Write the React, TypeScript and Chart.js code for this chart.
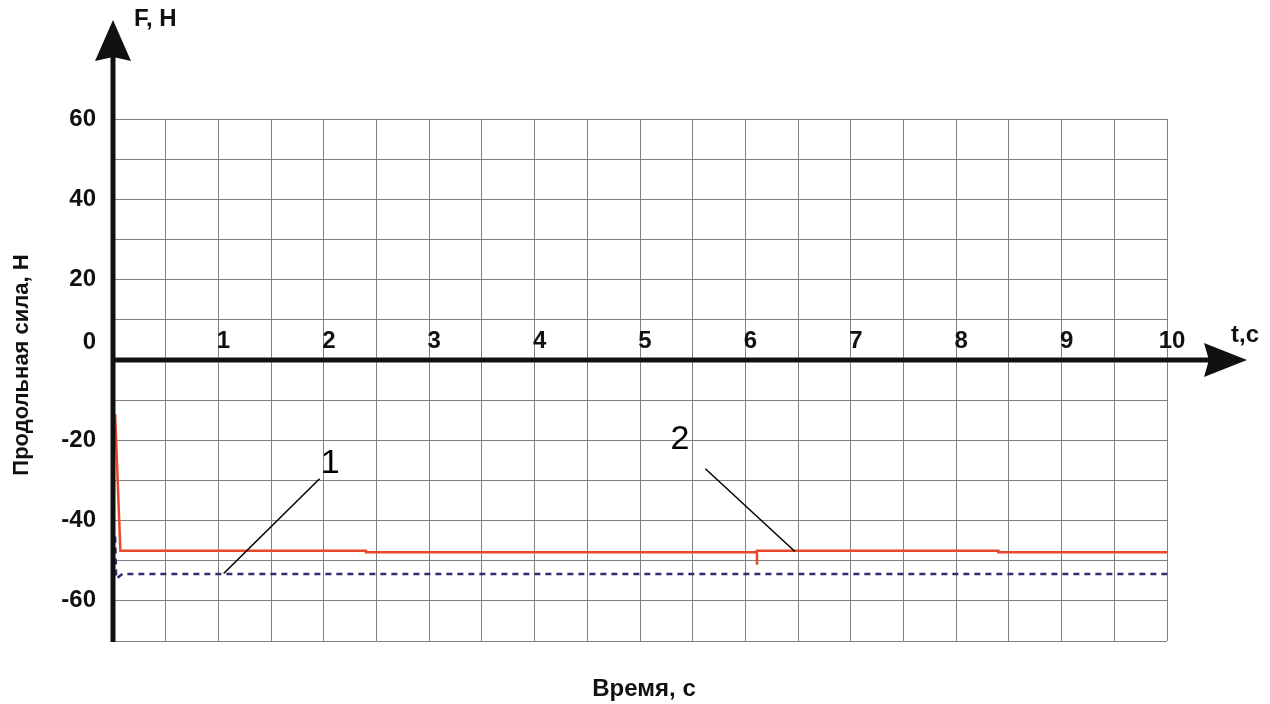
import React, { useEffect, useRef } from "react";
import { Chart, registerables } from "chart.js";

Chart.register(...registerables);

// ---- data ----
const series1Time = [0.02, 0.03, 0.09, 10];
const series1Force = [-44, -54.5, -53.3, -53.3];

const series2Time = [0.02, 0.07, 2.4, 2.4, 6.11, 6.11, 6.11, 8.4, 8.4, 10];
const series2Force = [-13.5, -47.5, -47.5, -47.9, -47.9, -51, -47.5, -47.5, -47.9, -47.9];

const xTickLabels = ["1", "2", "3", "4", "5", "6", "7", "8", "9", "10"];
const xTickValues = [1, 2, 3, 4, 5, 6, 7, 8, 9, 10];
const yTickLabels = ["60", "40", "20", "0", "-20", "-40", "-60"];
const yTickValues = [60, 40, 20, 0, -20, -40, -60];

const callouts = [
  { label: "1", labelT: 2.06, labelF: -25.9, fromT: 1.96, fromF: -29.6, toT: 1.05, toF: -53.2 },
  { label: "2", labelT: 5.38, labelF: -19.9, fromT: 5.62, fromF: -27.1, toT: 6.47, toF: -47.7 },
];

const FONT = "'Liberation Sans', Arial, sans-serif";

const decorPlugin = {
  id: "decor",
  afterDraw(chart: any) {
    const ctx = chart.ctx;
    const xs = chart.scales.x;
    const ys = chart.scales.y;
    const x0 = xs.getPixelForValue(0);
    const y0 = ys.getPixelForValue(0);
    const yBottom = ys.getPixelForValue(-70);
    ctx.save();
    ctx.fillStyle = "#111";
    ctx.strokeStyle = "#111";
    // y axis
    ctx.lineWidth = 5;
    ctx.beginPath();
    ctx.moveTo(x0, yBottom + 1);
    ctx.lineTo(x0, 50);
    ctx.stroke();
    ctx.beginPath();
    ctx.moveTo(x0, 20);
    ctx.lineTo(x0 + 18, 61);
    ctx.lineTo(x0, 57);
    ctx.lineTo(x0 - 18, 61);
    ctx.closePath();
    ctx.fill();
    // x axis
    ctx.beginPath();
    ctx.moveTo(x0, y0);
    ctx.lineTo(1215, y0);
    ctx.stroke();
    ctx.beginPath();
    ctx.moveTo(1247, y0);
    ctx.lineTo(1204, y0 - 17);
    ctx.lineTo(1209, y0);
    ctx.lineTo(1204, y0 + 17);
    ctx.closePath();
    ctx.fill();

    // tick labels
    ctx.font = `bold 24px ${FONT}`;
    ctx.textBaseline = "middle";
    ctx.textAlign = "right";
    yTickValues.forEach((v, i) => {
      let py = ys.getPixelForValue(v);
      if (v === 0) py -= 18;
      ctx.fillText(yTickLabels[i], 96, py);
    });
    ctx.textAlign = "center";
    xTickValues.forEach((v, i) => {
      ctx.fillText(xTickLabels[i], xs.getPixelForValue(v) + 5, y0 - 19);
    });

    // axis names
    ctx.font = `bold 24px ${FONT}`;
    ctx.textAlign = "left";
    ctx.fillText("F, H", 134, 19);
    ctx.fillText("t,c", 1231, 335);
    ctx.textAlign = "center";
    ctx.font = `bold 24px ${FONT}`;
    ctx.fillText("Время, с", 644, 689);
    ctx.save();
    ctx.translate(22, 365);
    ctx.rotate(-Math.PI / 2);
    ctx.font = `bold 22px ${FONT}`;
    ctx.fillText("Продольная сила, Н", 0, 0);
    ctx.restore();

    // callouts
    ctx.lineWidth = 1.5;
    ctx.strokeStyle = "#000";
    ctx.fillStyle = "#000";
    ctx.font = `34px ${FONT}`;
    callouts.forEach((c) => {
      ctx.beginPath();
      ctx.moveTo(xs.getPixelForValue(c.fromT), ys.getPixelForValue(c.fromF));
      ctx.lineTo(xs.getPixelForValue(c.toT), ys.getPixelForValue(c.toF));
      ctx.stroke();
      ctx.fillText(c.label, xs.getPixelForValue(c.labelT), ys.getPixelForValue(c.labelF));
    });
    ctx.restore();
  },
};

export default function App() {
  const ref = useRef<HTMLCanvasElement>(null);
  useEffect(() => {
    if (!ref.current) return;
    const chart = new Chart(ref.current, {
      type: "line",
      data: {
        datasets: [
          {
            label: "1",
            data: series1Time.map((t, i) => ({ x: t, y: series1Force[i] })),
            borderColor: "#3b2a70",
            borderWidth: 2.5,
            borderDash: [6, 5],
            pointRadius: 0,
            tension: 0,
          },
          {
            label: "2",
            data: series2Time.map((t, i) => ({ x: t, y: series2Force[i] })),
            borderColor: "#e8482a",
            borderWidth: 2.5,
            pointRadius: 0,
            tension: 0,
          },
        ],
      },
      options: {
        animation: false,
        responsive: false,
        layout: { padding: { left: 113, top: 119, right: 103, bottom: 63 } },
        plugins: { legend: { display: false }, tooltip: { enabled: false } },
        scales: {
          x: {
            type: "linear",
            min: 0,
            max: 10,
            ticks: { display: false, stepSize: 0.5 },
            grid: { color: "#808080", lineWidth: 1, drawTicks: false },
            border: { display: false },
          },
          y: {
            type: "linear",
            min: -70,
            max: 60,
            ticks: { display: false, stepSize: 10 },
            grid: { color: "#808080", lineWidth: 1, drawTicks: false },
            border: { display: false },
          },
        },
      },
      plugins: [decorPlugin],
    });
    return () => chart.destroy();
  }, []);
  return (
    <div style={{ position: "fixed", left: 0, top: 0, width: 1270, height: 704, background: "#fff" }}>
      <canvas ref={ref} width={1270} height={704} />
    </div>
  );
}
